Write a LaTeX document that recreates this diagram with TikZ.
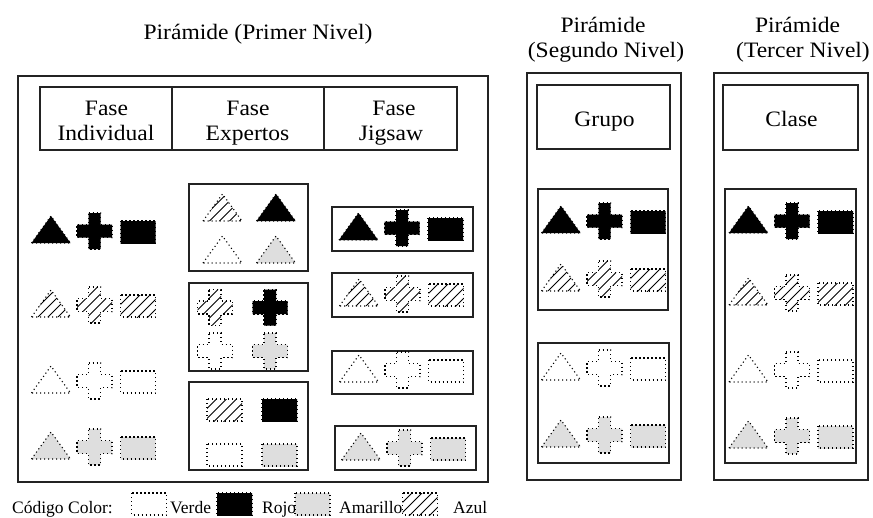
\documentclass[tikz,border=0pt]{standalone}
\usepackage{fontspec}
\setmainfont{Liberation Serif}
\newfontfamily\hdfont{Liberation Serif}[FakeStretch=1.07]
\definecolor{lightg}{RGB}{222,222,222}
\definecolor{boxc}{RGB}{35,35,35}
\tikzset{
  box/.style={draw=boxc, line width=1.2pt},
  dotline/.style={draw=black, line width=1.1pt, dash pattern=on 1.1pt off 2.9pt},
  fillB/.style={fill=black}, fillW/.style={fill=white},
  fillG/.style={fill=lightg}, fillH/.style={fill=white},
  hlB/.style={draw=none}, hlW/.style={draw=none}, hlG/.style={draw=none},
  hlH/.style={draw=black, line width=1pt},
  hd/.style={font=\hdfont\fontsize{22}{26}\selectfont, inner sep=0pt, anchor=base},
  lg/.style={font=\fontsize{17.5}{20}\selectfont, inner sep=0pt, anchor=base west},
  pics/shtri/.style={code={
    \begin{scope}
      \clip (-19.5,0) -- (0,-27) -- (19.5,0) -- cycle;
      \path[fill#1] (-21,-29) rectangle (21,1);
      \foreach \k in {-45,-35,...,25} \draw[hl#1] (\k,2) -- ++(32,-32);
    \end{scope}
    \path[dotline] (-19.5,0) -- (0,-27) -- (19.5,0) -- cycle;
  }},
  pics/shcrs/.style={code={
    \begin{scope}
      \clip (-6,-18) -- (6,-18) -- (6,-6.5) -- (17.5,-6.5) -- (17.5,6.5) -- (6,6.5) -- (6,18)
        -- (-6,18) -- (-6,6.5) -- (-17.5,6.5) -- (-17.5,-6.5) -- (-6,-6.5) -- cycle;
      \path[fill#1] (-19,-19) rectangle (19,19);
      \foreach \k in {-55,-45,...,25} \draw[hl#1] (\k,20) -- ++(40,-40);
    \end{scope}
    \path[dotline] (-6,-18) -- (6,-18) -- (6,-6.5) -- (17.5,-6.5) -- (17.5,6.5) -- (6,6.5) -- (6,18)
        -- (-6,18) -- (-6,6.5) -- (-17.5,6.5) -- (-17.5,-6.5) -- (-6,-6.5) -- cycle;
  }},
  pics/shrct/.style={code={
    \begin{scope}
      \clip (-17.5,-22) rectangle (17.5,0);
      \path[fill#1] (-19,-23) rectangle (19,1);
      \foreach \k in {-42,-32,...,22} \draw[hl#1] (\k,2) -- ++(28,-28);
    \end{scope}
    \path[dotline] (-17.5,-22) rectangle (17.5,0);
  }},
}
\newcommand\shaperow[3]{%
  \pic at ({#1-43.5},#2) {shtri=#3};
  \pic at (#1,{#2-12}) {shcrs=#3};
  \pic at ({#1+43.5},#2) {shrct=#3};
}
\begin{document}
\begin{tikzpicture}[x=1pt,y=-1pt]
\useasboundingbox[fill=white] (0,0) rectangle (873,517);

% titles
\node[hd] (t1) at (258,39) {Pirámide (Primer Nivel)};
\node[hd] (t2a) at (603,32) {Pirámide};
\node[hd] (t2b) at (606,57) {(Segundo Nivel)};
\node[hd] (t3a) at (797.5,32) {Pirámide};
\node[hd] (t3b) at (803,57) {(Tercer Nivel)};

% outer boxes
\draw[box] (18,76) rectangle (488,482);
\draw[box] (527,73) rectangle (681,480);
\draw[box] (714,73) rectangle (868,480);

% header table
\draw[box] (40,87) rectangle (457,150);
\draw[box] (172,87) -- (172,150);
\draw[box] (324,87) -- (324,150);
\node[hd] (h1a) at (106.5,115) {Fase};
\node[hd] (h1b) at (106,140) {Individual};
\node[hd] (h2a) at (248,115) {Fase};
\node[hd] (h2b) at (247.5,140) {Expertos};
\node[hd] (h3a) at (394,115) {Fase};
\node[hd] (h3b) at (391,140) {Jigsaw};

\draw[box] (537,85) rectangle (670,149);
\node[hd] (grupo) at (604.5,126) {Grupo};
\draw[box] (723,85) rectangle (858,150);
\node[hd] (clase) at (791.5,126) {Clase};

% individual phase
\shaperow{94.5}{243}{B}
\shaperow{94.5}{317}{H}
\shaperow{94.5}{393}{W}
\shaperow{94.5}{459}{G}

% expert phase
\draw[box] (189,184) rectangle (308,271);
\pic at (222.5,221) {shtri=H};
\pic at (276,221) {shtri=B};
\pic at (222.5,263) {shtri=W};
\pic at (276,263) {shtri=G};
\draw[box] (189,283) rectangle (308,371);
\pic at (215,307.5) {shcrs=H};
\pic at (270,307.5) {shcrs=B};
\pic at (215,351) {shcrs=W};
\pic at (270,351) {shcrs=G};
\draw[box] (189,382) rectangle (308,470);
\pic at (224.5,421) {shrct=H};
\pic at (279.5,421) {shrct=B};
\pic at (224.5,466) {shrct=W};
\pic at (279.5,466) {shrct=G};

% jigsaw phase
\draw[box] (332,207) rectangle (473,251);
\shaperow{402}{240}{B}
\draw[box] (332,273) rectangle (473,317);
\shaperow{402.5}{306}{H}
\draw[box] (332,351) rectangle (473,394);
\shaperow{402.5}{382}{W}
\draw[box] (335,426) rectangle (476,470);
\shaperow{404.5}{460}{G}

% second level
\draw[box] (538,189) rectangle (668,310);
\shaperow{604.5}{233}{B}
\shaperow{604.5}{291}{H}
\draw[box] (538,343) rectangle (669,463);
\shaperow{604.5}{380}{W}
\shaperow{604.5}{447}{G}

% third level
\draw[box] (725,189) rectangle (856,463);
\shaperow{792}{233}{B}
\shaperow{792}{305}{H}
\shaperow{792}{382}{W}
\shaperow{792}{448}{G}

% legend
\node[lg] (lc) at (12,513) {Código Color:};
\pic at (149,515) {shrct=W};
\node[lg] (lv) at (170,513) {Verde};
\pic at (234.5,515) {shrct=B};
\node[lg] (lr) at (262,513) {Rojo};
\pic at (312.5,515) {shrct=G};
\node[lg] (la) at (339,513) {Amarillo};
\pic at (420,515) {shrct=H};
\node[lg] (lz) at (453,513) {Azul};
\end{tikzpicture}
\end{document}
